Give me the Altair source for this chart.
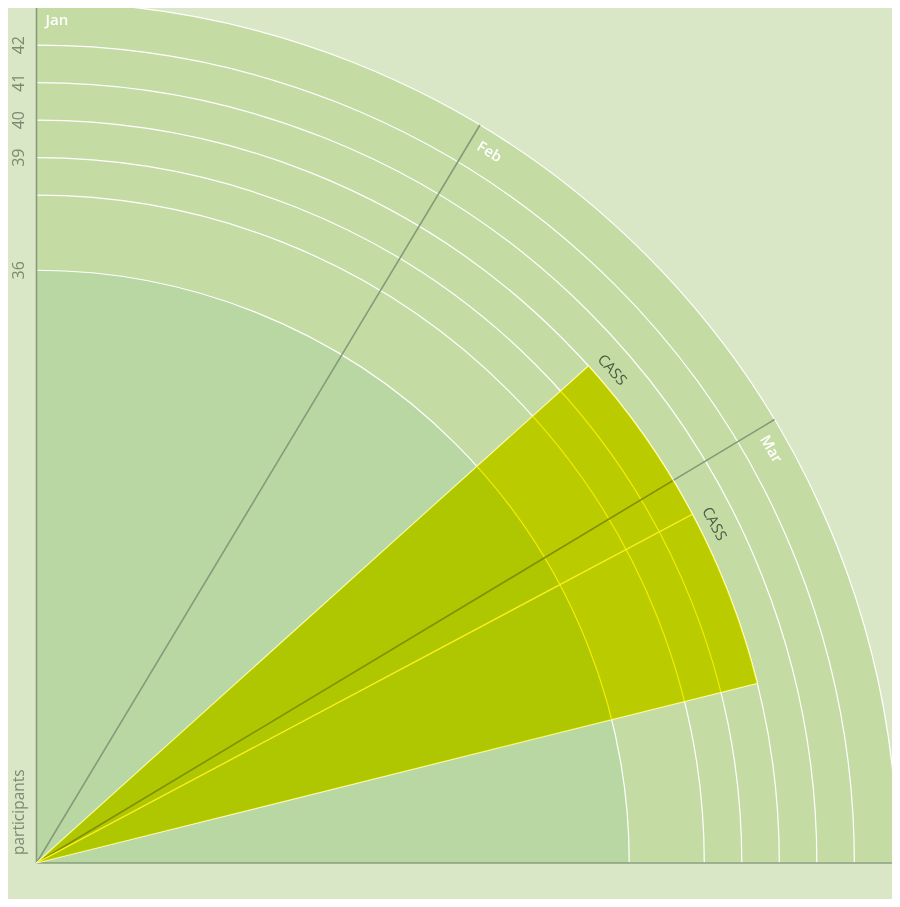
import math
import altair as alt
import pandas as pd

# ---------------- data ----------------
# angle = day of year (Jan 1 = 0); the quarter Jan-Mar spans 90 days
month_names = ["Jan", "Feb", "Mar", "Apr"]
month_day = [0, 31, 59, 90]
label_names = ["Jan", "Feb", "Mar"]
label_day = [0, 31, 59]

base_start = [0]
base_end = [90]
base_value = [36]

ring_values = [36, 38, 39, 40, 41, 42]
tick_values = [36, 39, 40, 41, 42]
radius_domain = [20.2, 43.15]

event_names = ["CASS", "CASS"]
event_start = [48, 62]
event_end = [62, 76]
event_value = [40, 40]

# ---------------- layout ----------------
CX, CY, R = 28.5, 855, 861
BG = "#dae7c6"
DISK = "#c4dca4"
BASE = "#b8d7a3"
YELLOW = "#f2ec00"
LINE = "#879a78"
TXT = "#7b8a70"
FONT = "Open Sans"

theta_scale = alt.Scale(type="linear", domain=[0, 90], range=[0, math.pi / 2])
radius_scale = alt.Scale(type="linear", domain=radius_domain, range=[0, R], zero=False)

pos = dict(x=alt.value(CX), y=alt.value(CY))

disk_df = pd.DataFrame({"start": [month_day[0]], "end": [month_day[-1]], "r": [radius_domain[1]]})
disk = alt.Chart(disk_df).mark_arc(fill=DISK, stroke="white", strokeWidth=1.2).encode(
    theta=alt.Theta("start:Q", scale=theta_scale),
    theta2="end:Q",
    radius=alt.Radius("r:Q", scale=radius_scale),
    radius2=alt.value(0),
    **pos,
)

base_df = pd.DataFrame({"start": base_start, "end": base_end, "r": base_value})
base = alt.Chart(base_df).mark_arc(fill=BASE).encode(
    theta=alt.Theta("start:Q", scale=theta_scale),
    theta2="end:Q",
    radius=alt.Radius("r:Q", scale=radius_scale),
    radius2=alt.value(0),
    **pos,
)

rings_df = pd.DataFrame({"r": ring_values})
rings_df["start"] = month_day[0]
rings_df["end"] = month_day[-1]
rings = alt.Chart(rings_df).mark_arc(fillOpacity=0, stroke="white", strokeWidth=1.2).encode(
    theta=alt.Theta("start:Q", scale=theta_scale),
    theta2="end:Q",
    radius=alt.Radius("r:Q", scale=radius_scale),
    radius2="r:Q",
    **pos,
)

lines_df = pd.DataFrame({"d": month_day, "month": month_names})
lines_df["r"] = radius_domain[1]
lines = alt.Chart(lines_df).mark_arc(fillOpacity=0, stroke=LINE, strokeWidth=1.6).encode(
    theta=alt.Theta("d:Q", scale=theta_scale),
    theta2="d:Q",
    radius=alt.Radius("r:Q", scale=radius_scale),
    radius2=alt.value(0),
    **pos,
)

ev_df = pd.DataFrame({"name": event_names, "start": event_start, "end": event_end, "v": event_value})
ev_outline = alt.Chart(ev_df).mark_arc(fillOpacity=0, stroke="white", strokeWidth=1.2).encode(
    theta=alt.Theta("start:Q", scale=theta_scale),
    theta2="end:Q",
    radius=alt.Radius("v:Q", scale=radius_scale),
    radius2=alt.value(0),
    **pos,
)
ev_fill = alt.Chart(ev_df).mark_arc(fill=YELLOW, blend="multiply").encode(
    theta=alt.Theta("start:Q", scale=theta_scale),
    theta2="end:Q",
    radius=alt.Radius("v:Q", scale=radius_scale),
    radius2=alt.value(0),
    **pos,
)
ev_text = alt.Chart(ev_df).mark_text(
    align="left", baseline="middle", radiusOffset=15, dx=1,
    font=FONT, fontSize=15, color="#4c5a44",
).encode(
    theta=alt.Theta("start:Q", scale=theta_scale),
    radius=alt.Radius("v:Q", scale=radius_scale),
    angle=alt.Angle("start:Q", scale=None),
    text="name:N",
    **pos,
)

ml_df = pd.DataFrame({"d": label_day, "month": label_names})
ml_df["r"] = radius_domain[1]
month_text = alt.Chart(ml_df).mark_text(
    align="left", baseline="middle", radiusOffset=-18, dx=9,
    font=FONT, fontSize=15, fontWeight=600, color="white",
).encode(
    theta=alt.Theta("d:Q", scale=theta_scale),
    radius=alt.Radius("r:Q", scale=radius_scale),
    angle=alt.Angle("d:Q", scale=None),
    text="month:N",
    **pos,
)

tick_df = pd.DataFrame({"v": tick_values})
tick_df["t"] = 0
tick_df["label"] = tick_df["v"].astype(str)
tick_text = alt.Chart(tick_df).mark_text(
    align="center", baseline="alphabetic", angle=270, dy=-13,
    font=FONT, fontSize=16, color=TXT,
).encode(
    theta=alt.Theta("t:Q", scale=theta_scale),
    radius=alt.Radius("v:Q", scale=radius_scale),
    text="label:N",
    **pos,
)

title_df = pd.DataFrame({"t": [0], "label": ["participants"]})
title_text = alt.Chart(title_df).mark_text(
    align="left", baseline="alphabetic", angle=270, dy=-13,
    font=FONT, fontSize=15.5, color=TXT,
).encode(
    theta=alt.Theta("t:Q", scale=theta_scale),
    radius=alt.value(8),
    text="label:N",
    **pos,
)

chart = alt.layer(
    disk, base, rings, lines, ev_outline, ev_fill, ev_text, month_text, tick_text, title_text
).properties(
    width=884, height=891,
    autosize=alt.AutoSizeParams(type="none"),
    padding=0,
    background=BG,
).configure_view(strokeWidth=0, fill=BG)

chart.save("out.html", embed_options={"renderer": "svg", "actions": False})
